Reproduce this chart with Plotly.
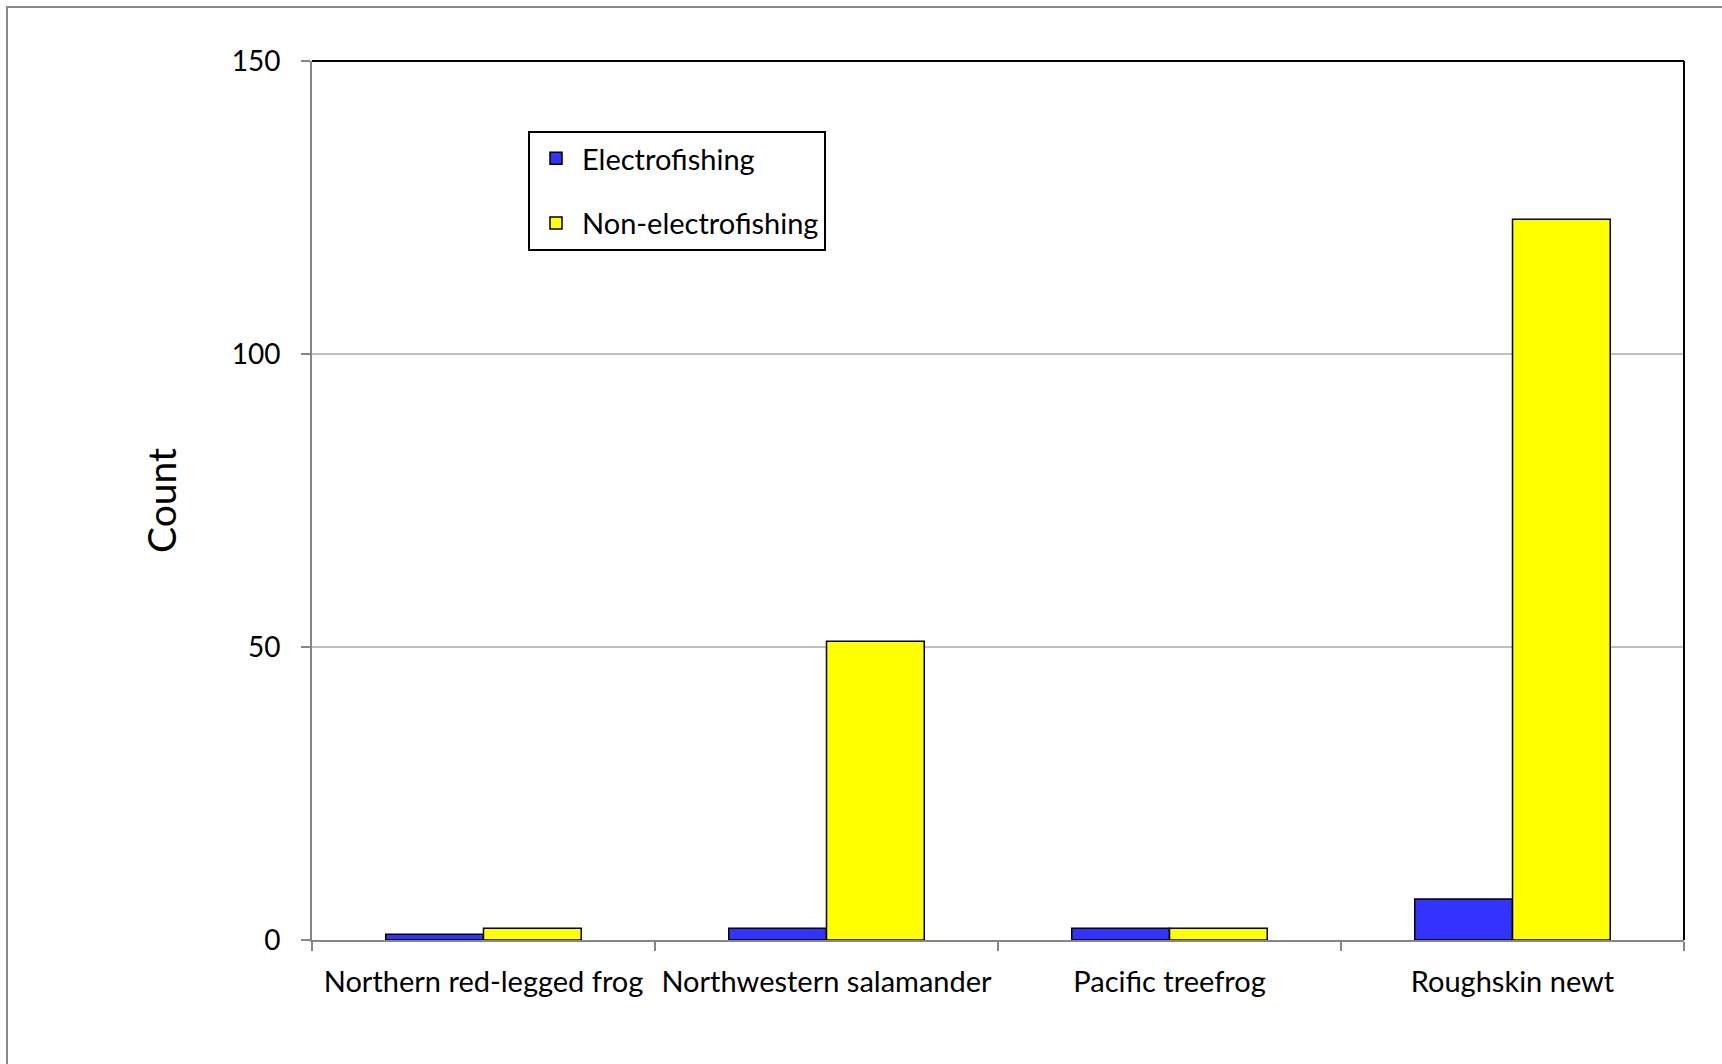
import plotly.graph_objects as go

# Amphibian counts by capture method
species = ["Northern red-legged frog", "Northwestern salamander",
           "Pacific treefrog", "Roughskin newt"]
electrofishing = [1, 2, 2, 7]
non_electrofishing = [2, 51, 2, 123]
y_ticks = [0, 50, 100, 150]

FONT = "Lato"
W, H = 1722, 1064
M_L, M_R, M_T, M_B = 312, 38, 61, 124

fig = go.Figure()
fig.add_trace(go.Bar(
    x=species, y=electrofishing, name="Electrofishing",
    marker=dict(color="#3333FF", line=dict(color="black", width=1.5)),
    legendgroup="e",
))
fig.add_trace(go.Bar(
    x=species, y=non_electrofishing, name="Non-electrofishing",
    marker=dict(color="#FFFF00", line=dict(color="black", width=1.5)),
    legendgroup="n",
))

# paper coordinates of the outer chart frame (drawn in pixels)
pw = W - M_L - M_R
ph = H - M_T - M_B
def px_x(x):
    return (x - M_L) / pw
def px_y(y):
    return (H - M_B - y) / ph

fig.update_layout(
    width=W, height=H,
    margin=dict(l=M_L, r=M_R, t=M_T, b=M_B),
    paper_bgcolor="white", plot_bgcolor="white",
    font=dict(family=FONT, size=29, color="black"),
    barmode="group", bargap=0.43, bargroupgap=0,
    showlegend=True,
    legend=dict(
        x=px_x(528), y=px_y(131), xanchor="left", yanchor="top",
        bordercolor="black", borderwidth=2, bgcolor="white",
        font=dict(family=FONT, size=29),
        traceorder="grouped", tracegroupgap=24, itemwidth=42,
    ),
    xaxis=dict(
        showline=True, linecolor="#868686", linewidth=2,
        ticks="outside", tickson="boundaries", ticklen=9,
        tickcolor="#868686", tickwidth=2,
        ticklabelstandoff=15, tickangle=0, automargin=False,
        tickfont=dict(family=FONT, size=29),
        showgrid=False,
    ),
    yaxis=dict(
        range=[0, 150], tickvals=y_ticks,
        showline=True, linecolor="#868686", linewidth=2,
        ticks="outside", ticklen=9, tickcolor="#868686", tickwidth=2,
        ticklabelstandoff=15, automargin=False,
        tickfont=dict(family=FONT, size=28),
        showgrid=True, gridcolor="#C0C0C0", gridwidth=1.5,
        zeroline=False,
        title=dict(text="Count", font=dict(family=FONT, size=39), standoff=43),
    ),
    shapes=[
        # top and right plot border
        dict(type="line", xref="paper", yref="paper", x0=0, x1=1, y0=1, y1=1,
             line=dict(color="black", width=2)),
        dict(type="line", xref="paper", yref="paper", x0=1, x1=1, y0=0, y1=1,
             line=dict(color="black", width=2)),
        # outer chart frame
        dict(type="rect", xref="paper", yref="paper",
             x0=px_x(7), x1=px_x(1735), y0=px_y(7), y1=px_y(1080),
             line=dict(color="#888888", width=2), layer="below"),
    ],
)

fig.write_html("out.html")
